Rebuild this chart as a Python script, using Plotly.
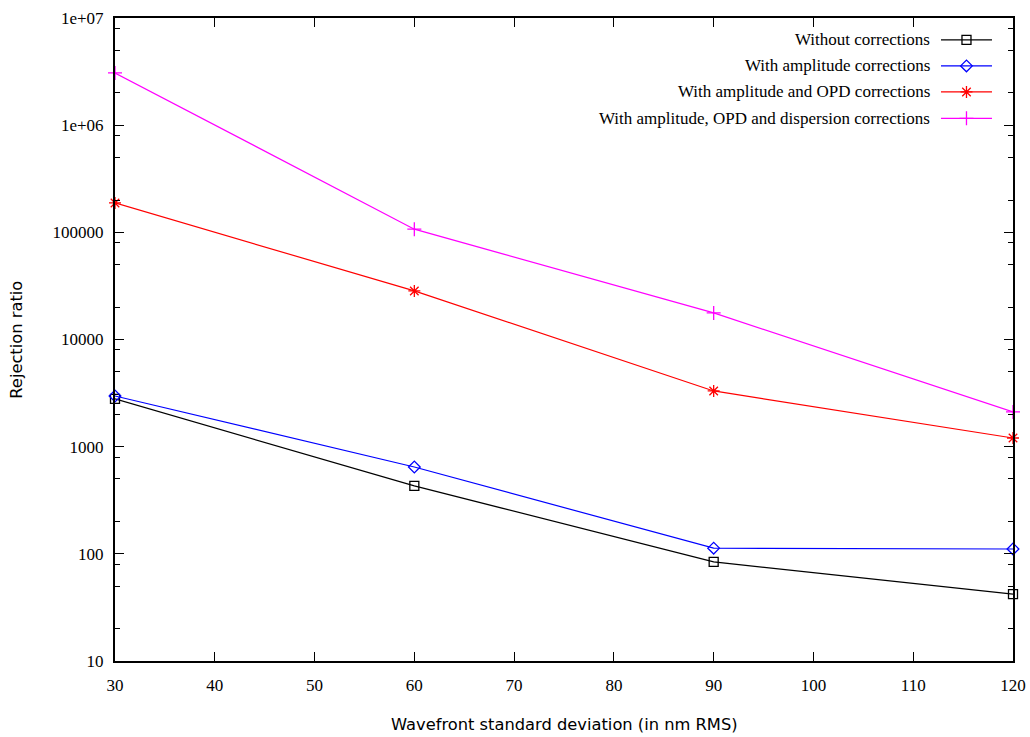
import plotly.graph_objects as go

x_vals = [30, 60, 90, 120]
without_corr = [2790, 430, 84, 42]
amp_corr = [2970, 646, 113, 111]
amp_opd_corr = [188000, 28400, 3310, 1205]
amp_opd_disp_corr = [3070000, 107000, 17700, 2108]

series_names = [
    "Without corrections",
    "With amplitude corrections",
    "With amplitude and OPD corrections",
    "With amplitude, OPD and dispersion corrections",
]
series_values = [without_corr, amp_corr, amp_opd_corr, amp_opd_disp_corr]
series_colors = ["#000000", "#0000ff", "#ff0000", "#ff00ff"]
series_symbols = ["square-open", "diamond-open", "asterisk-open", "cross-thin-open"]
series_sizes = [9, 9, 10, 10]

y_tickvals = [10, 100, 1000, 10000, 100000, 1000000, 10000000]
y_ticktext = ["10", "100", "1000", "10000", "100000", "1e+06", "1e+07"]
x_tickvals = [30, 40, 50, 60, 70, 80, 90, 100, 110, 120]
y_minor = [m * 10 ** e for e in range(1, 7) for m in (2, 5, 8)]

serif = "Liberation Serif"
sans = "DejaVu Sans"

fig = go.Figure()
for name, vals, col, sym, sz in zip(series_names, series_values, series_colors, series_symbols, series_sizes):
    fig.add_trace(go.Scatter(
        x=x_vals, y=vals, mode="lines+markers", name=name,
        line=dict(color=col, width=1.2),
        marker=dict(symbol=sym, size=sz, color=col, line=dict(color=col, width=1.3)),
        showlegend=False, cliponaxis=False,
    ))

# gnuplot-style legend: text right-aligned, sample line + marker on the right
leg_y = [0.966, 0.9255, 0.885, 0.844]
for name, col, sym, sz, ly in zip(series_names, series_colors, series_symbols, series_sizes, leg_y):
    fig.add_trace(go.Scatter(
        x=[0.9198, 0.9766], y=[ly, ly], xaxis="x2", yaxis="y2", mode="lines",
        line=dict(color=col, width=1.2), showlegend=False, hoverinfo="skip",
    ))
    fig.add_trace(go.Scatter(
        x=[0.9482], y=[ly], xaxis="x2", yaxis="y2", mode="markers",
        marker=dict(symbol=sym, size=sz, color=col, line=dict(color=col, width=1.3)),
        showlegend=False, hoverinfo="skip",
    ))
    fig.add_annotation(
        x=0.910, y=ly, xref="x2", yref="y2", text=name, showarrow=False,
        xanchor="right", yanchor="middle", font=dict(family=serif, size=17, color="#000"),
    )

# axis titles
fig.add_annotation(
    x=0.5, y=-0.098, xref="paper", yref="paper", text="Wavefront standard deviation (in nm RMS)",
    showarrow=False, xanchor="center", yanchor="middle",
    font=dict(family=sans, size=16.3, color="#000"),
)
fig.add_annotation(
    x=-0.110, y=0.5, xref="paper", yref="paper", text="Rejection ratio",
    showarrow=False, xanchor="center", yanchor="middle", textangle=-90,
    font=dict(family=sans, size=16.3, color="#000"),
)

fig.update_layout(
    width=1030, height=737,
    margin=dict(l=115, r=17, t=18, b=76),
    paper_bgcolor="white", plot_bgcolor="white",
    showlegend=False,
    xaxis=dict(
        range=[30, 120], tickvals=x_tickvals, ticks="inside", ticklen=9, tickwidth=1,
        tickcolor="#000", showline=True, linecolor="#000", linewidth=2, mirror="ticks",
        showgrid=False, zeroline=False, automargin=False, ticklabelstandoff=8,
        tickfont=dict(family=serif, size=17, color="#000"),
    ),
    yaxis=dict(
        type="log", range=[1, 7], tickvals=y_tickvals, ticktext=y_ticktext,
        ticks="inside", ticklen=9, tickwidth=1, tickcolor="#000",
        showline=True, linecolor="#000", linewidth=2, mirror="ticks",
        showgrid=False, zeroline=False, automargin=False, ticklabelstandoff=6,
        tickfont=dict(family=serif, size=17, color="#000"),
        minor=dict(tickmode="array", tickvals=y_minor, ticks="inside", ticklen=5,
                   tickwidth=1, tickcolor="#000", showgrid=False),
    ),
    xaxis2=dict(overlaying="x", range=[0, 1], visible=False, fixedrange=True),
    yaxis2=dict(overlaying="y", range=[0, 1], visible=False, fixedrange=True),
)

fig.write_html("out.html")
